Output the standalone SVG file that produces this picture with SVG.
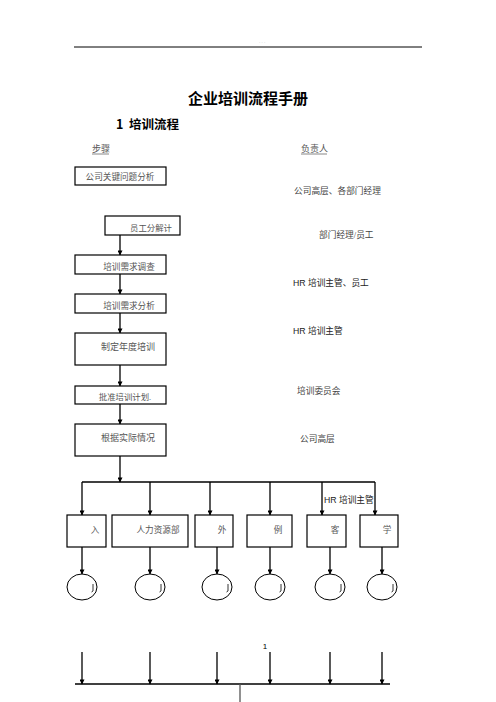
<svg xmlns="http://www.w3.org/2000/svg" width="496" height="702" viewBox="0 0 496 702">
<style>
text{font-family:"Liberation Serif","Noto Sans CJK SC",serif;fill:#333}
.t{font-family:"Noto Sans CJK SC",sans-serif;font-weight:bold;fill:#000}
.s{font-size:9px}
.b{font-size:8.6px;fill:#555}
.r{font-size:8.7px;fill:#444}
.hr{font-family:"Liberation Sans","Noto Sans CJK SC",sans-serif;font-size:8.7px;fill:#222}
rect{fill:#fff;stroke:#000;stroke-width:1.2}
ellipse{fill:none;stroke:#000;stroke-width:1}
.c line,.c path{stroke:#000;stroke-width:1.3;fill:none}
</style>
<defs>
<marker id="ah" viewBox="0 0 10 10" refX="9" refY="5" markerWidth="6" markerHeight="5" orient="auto" markerUnits="userSpaceOnUse">
<path d="M0,0 L10,5 L0,10 z" fill="#000"/>
</marker>
</defs>
<rect width="496" height="702" style="fill:#fff;stroke:none"/>
<text x="262" y="43" text-anchor="middle" style="font-size:5px;fill:#bbb">. . .</text>
<line x1="74" y1="47" x2="422" y2="47" stroke="#000" stroke-width="1"/>
<text class="t" x="248" y="104" text-anchor="middle" style="font-size:15px">企业培训流程手册</text>
<text class="t" x="116" y="129" style="font-size:12.5px" xml:space="preserve">1  培训流程</text>
<g id="hdr">
<text class="s" x="92" y="152" style="fill:#555">步骤</text>
<line x1="92" y1="154" x2="109" y2="154" stroke="#555" stroke-width="0.7"/>
<text class="s" x="301" y="152" style="fill:#555">负责人</text>
<line x1="301" y1="154" x2="327" y2="154" stroke="#555" stroke-width="0.7"/>
</g>
<g class="c" id="connectors">
<line x1="120" y1="235" x2="120" y2="255" marker-end="url(#ah)"/>
<line x1="120" y1="274" x2="120" y2="294" marker-end="url(#ah)"/>
<line x1="120" y1="313" x2="120" y2="333" marker-end="url(#ah)"/>
<line x1="120" y1="365" x2="120" y2="386" marker-end="url(#ah)"/>
<line x1="120" y1="404" x2="120" y2="424" marker-end="url(#ah)"/>
<line x1="120" y1="456" x2="120" y2="482" marker-end="url(#ah)"/>
<line x1="82" y1="482" x2="375" y2="482"/>
<line x1="82" y1="482" x2="82" y2="515" marker-end="url(#ah)"/>
<line x1="150" y1="482" x2="150" y2="515" marker-end="url(#ah)"/>
<line x1="210" y1="482" x2="210" y2="515" marker-end="url(#ah)"/>
<line x1="270" y1="482" x2="270" y2="515" marker-end="url(#ah)"/>
<line x1="322" y1="482" x2="322" y2="515" marker-end="url(#ah)"/>
<line x1="375" y1="482" x2="375" y2="515" marker-end="url(#ah)"/>
<line x1="82" y1="547" x2="82" y2="574" marker-end="url(#ah)"/>
<line x1="150" y1="547" x2="150" y2="574" marker-end="url(#ah)"/>
<line x1="217" y1="547" x2="217" y2="574" marker-end="url(#ah)"/>
<line x1="270" y1="547" x2="270" y2="574" marker-end="url(#ah)"/>
<line x1="330" y1="547" x2="330" y2="574" marker-end="url(#ah)"/>
<line x1="382" y1="547" x2="382" y2="574" marker-end="url(#ah)"/>
<line x1="82" y1="652" x2="82" y2="684" marker-end="url(#ah)"/>
<line x1="150" y1="652" x2="150" y2="684" marker-end="url(#ah)"/>
<line x1="217" y1="652" x2="217" y2="684" marker-end="url(#ah)"/>
<line x1="270" y1="652" x2="270" y2="684" marker-end="url(#ah)"/>
<line x1="330" y1="652" x2="330" y2="684" marker-end="url(#ah)"/>
<line x1="382" y1="652" x2="382" y2="684" marker-end="url(#ah)"/>
<line x1="75" y1="684" x2="390" y2="684"/>
<line x1="240" y1="684" x2="240" y2="702" style="stroke:#555"/>
</g>
<g id="n1"><rect x="75" y="167" width="91" height="18"/><text class="b" x="120" y="179.5" text-anchor="middle">公司关键问题分析</text></g>
<g id="n2"><rect x="105" y="216" width="75" height="19"/><text class="b" x="151" y="231" text-anchor="middle" style="font-size:8.4px">员工分解计</text></g>
<g id="n3"><rect x="75" y="255" width="91" height="19"/><text class="b" x="129" y="270" text-anchor="middle">培训需求调查</text></g>
<g id="n4"><rect x="75" y="294" width="91" height="19"/><text class="b" x="129" y="309" text-anchor="middle">培训需求分析</text></g>
<g id="n5"><rect x="75" y="333" width="91" height="32"/><text class="b" x="128" y="350" text-anchor="middle" style="font-size:9px">制定年度培训</text></g>
<g id="n6"><rect x="75" y="386" width="91" height="18"/><text class="b" x="125" y="400" text-anchor="middle" style="font-size:8.4px">批准培训计划.</text></g>
<g id="n7"><rect x="75" y="424" width="91" height="32"/><text class="b" x="128" y="441" text-anchor="middle" style="font-size:9px">根据实际情况</text></g>
<g id="resp">
<text class="r" x="294" y="194">公司高层、各部门经理</text>
<text class="r" x="319" y="238">部门经理/员工</text>
<text class="hr" x="293" y="286">HR 培训主管、员工</text>
<text class="hr" x="293" y="334">HR 培训主管</text>
<text class="r" x="297" y="394">培训委员会</text>
<text class="r" x="300" y="442">公司高层</text>
<text class="hr" x="324" y="503">HR 培训主管</text>
</g>
<g id="m1"><rect x="67" y="515" width="39" height="32"/><text class="b" x="95" y="533" text-anchor="middle">入</text></g>
<g id="m2"><rect x="112" y="515" width="76" height="32"/><text class="b" x="158" y="533" text-anchor="middle">人力资源部</text></g>
<g id="m3"><rect x="195" y="515" width="38" height="32"/><text class="b" x="222" y="533" text-anchor="middle">外</text></g>
<g id="m4"><rect x="247" y="515" width="45" height="32"/><text class="b" x="278" y="533" text-anchor="middle">例</text></g>
<g id="m5"><rect x="307" y="515" width="39" height="32"/><text class="b" x="335" y="533" text-anchor="middle">客</text></g>
<g id="m6"><rect x="360" y="515" width="38" height="32"/><text class="b" x="387" y="533" text-anchor="middle">学</text></g>
<g id="e1"><ellipse cx="82" cy="587" rx="15" ry="13"/><path d="M93,584 v7 l-1.5,1" stroke="#000" stroke-width="0.8" fill="none"/></g>
<g id="e2"><ellipse cx="150" cy="587" rx="15" ry="13"/><path d="M161,584 v7 l-1.5,1" stroke="#000" stroke-width="0.8" fill="none"/></g>
<g id="e3"><ellipse cx="217" cy="587" rx="15" ry="13"/><path d="M228,584 v7 l-1.5,1" stroke="#000" stroke-width="0.8" fill="none"/></g>
<g id="e4"><ellipse cx="270" cy="587" rx="15" ry="13"/><path d="M281,584 v7 l-1.5,1" stroke="#000" stroke-width="0.8" fill="none"/></g>
<g id="e5"><ellipse cx="330" cy="587" rx="15" ry="13"/><path d="M341,584 v7 l-1.5,1" stroke="#000" stroke-width="0.8" fill="none"/></g>
<g id="e6"><ellipse cx="382" cy="587" rx="15" ry="13"/><path d="M393,584 v7 l-1.5,1" stroke="#000" stroke-width="0.8" fill="none"/></g>
<text x="265" y="649" text-anchor="middle" style="font-family:'Liberation Sans',sans-serif;font-size:8px;fill:#000">1</text>
</svg>
